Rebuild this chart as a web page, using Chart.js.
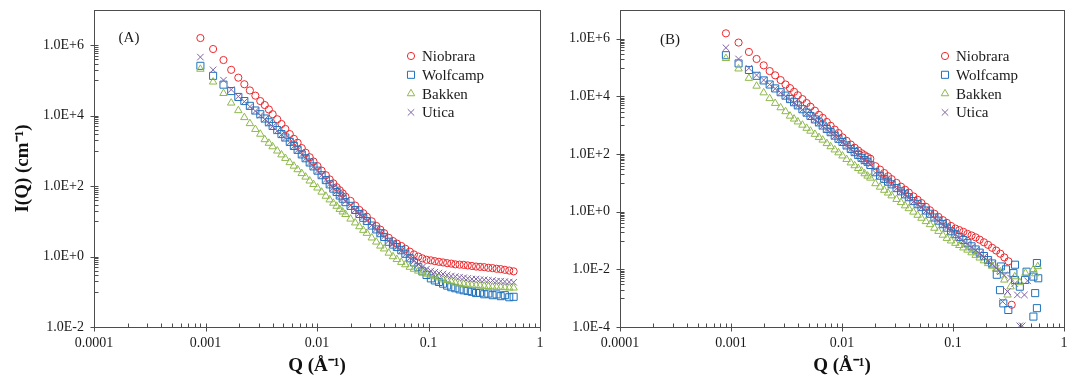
<!DOCTYPE html>
<html lang="en">
<head>
<meta charset="UTF-8">
<title>SANS curves</title>
<style>
  body { margin: 0; background: #fff; }
  canvas { position: absolute; top: 0; }
  #chartA { left: 0; }
  #chartB { left: 560px; }
</style>
</head>
<body>
<canvas id="chartA" width="560" height="378"></canvas>
<canvas id="chartB" width="512" height="378"></canvas>
<script src="https://cdn.jsdelivr.net/npm/chart.js"></script>
<script>
// Q values (1/Angstrom) shared by all series
const qValues = [0.0009, 0.00117, 0.00145, 0.0017, 0.00197, 0.00223, 0.0025, 0.0028, 0.0031, 0.0034,
  0.0037, 0.004, 0.0044, 0.0048, 0.0052, 0.0057, 0.0062, 0.0067, 0.0073, 0.0079,
  0.0086, 0.0093, 0.0101, 0.011, 0.012, 0.013, 0.014, 0.015, 0.016, 0.017,
  0.018, 0.02, 0.022, 0.024, 0.026, 0.028, 0.031, 0.034, 0.037, 0.04,
  0.044, 0.048, 0.052, 0.057, 0.062, 0.068, 0.074, 0.081, 0.088, 0.096,
  0.105, 0.114, 0.124, 0.135, 0.147, 0.16, 0.174, 0.19, 0.207, 0.225,
  0.245, 0.267, 0.29, 0.316, 0.344, 0.375, 0.408, 0.444, 0.484, 0.53, 0.58];

// panel (A)
const niobraraA = [1.6e6, 7.8e5, 3.8e5, 2.0e5, 1.2e5, 7.8e4, 5.2e4, 3.7e4, 2.6e4, 2.0e4,
  1.5e4, 1.1e4, 7.9e3, 5.8e3, 4.2e3, 3.0e3, 2.2e3, 1.7e3, 1.2e3, 890,
  660, 500, 370, 275, 204, 155, 120, 93, 76, 62,
  50, 38, 28, 21, 17, 13.5, 10, 7.4, 5.8, 4.6,
  3.4, 2.75, 2.34, 2.0, 1.66, 1.38, 1.15, 1.0, 0.89, 0.81,
  0.78, 0.74, 0.71, 0.68, 0.65, 0.63, 0.60, 0.59, 0.58, 0.56,
  0.54, 0.52, 0.51, 0.50, 0.48, 0.47, 0.45, 0.44, 0.42, 0.40, 0.38];
const wolfcampA = [2.6e5, 1.35e5, 7.6e4, 5.0e4, 3.4e4, 2.6e4, 1.9e4, 1.4e4, 1.1e4, 8.3e3,
  6.5e3, 5.1e3, 3.9e3, 3.0e3, 2.4e3, 1.8e3, 1.38e3, 1.07e3, 794, 617,
  468, 363, 275, 204, 148, 112, 85, 68, 54, 44,
  35, 27.5, 21, 16.2, 12.6, 10.2, 7.6, 5.9, 4.6, 3.6,
  2.63, 2.19, 1.86, 1.51, 1.2, 0.89, 0.68, 0.5, 0.38, 0.30,
  0.24, 0.21, 0.19, 0.17, 0.15, 0.135, 0.126, 0.117, 0.11, 0.105,
  0.1, 0.092, 0.094, 0.085, 0.089, 0.08, 0.084, 0.075, 0.08, 0.07, 0.072];
const bakkenA = [2.1e5, 9.1e4, 4.3e4, 2.3e4, 1.4e4, 8.9e3, 6.0e3, 4.1e3, 3.0e3, 2.1e3,
  1.66e3, 1.32e3, 1.0e3, 776, 617, 468, 372, 295, 229, 182,
  141, 112, 89, 68, 52, 41, 33, 27, 22, 18.6,
  15.8, 11.7, 9.1, 7.1, 5.6, 4.6, 3.4, 2.6, 2.0, 1.66,
  1.26, 1.0, 0.83, 0.69, 0.59, 0.50, 0.44, 0.39, 0.35, 0.32,
  0.30, 0.27, 0.25, 0.22, 0.21, 0.195, 0.18, 0.17, 0.166, 0.158,
  0.155, 0.151, 0.148, 0.145, 0.141, 0.138, 0.135, 0.135, 0.132, 0.129, 0.129];
const uticaA = [4.6e5, 2.0e5, 1.02e5, 5.5e4, 3.5e4, 2.5e4, 1.8e4, 1.35e4, 1.02e4, 7.9e3,
  6.2e3, 4.9e3, 3.7e3, 2.9e3, 2.3e3, 1.74e3, 1.35e3, 1.05e3, 776, 603,
  457, 355, 269, 204, 151, 115, 89, 71, 56, 46,
  37, 28, 21, 16.6, 13.2, 10.5, 7.8, 6.0, 4.7, 3.7,
  2.8, 2.24, 1.82, 1.45, 1.15, 0.91, 0.74, 0.60, 0.50, 0.44,
  0.39, 0.36, 0.34, 0.32, 0.30, 0.28, 0.27, 0.26, 0.25, 0.24,
  0.23, 0.23, 0.22, 0.22, 0.21, 0.21, 0.20, 0.20, 0.195, 0.19, 0.186];

// panel (B)
const niobraraB = [1.55e6, 7.4e5, 3.5e5, 2.0e5, 1.2e5, 7.6e4, 5.4e4, 3.7e4, 2.6e4, 1.95e4,
  1.45e4, 1.1e4, 8.1e3, 5.9e3, 4.4e3, 3.2e3, 2.3e3, 1.8e3, 1.3e3, 955,
  708, 537, 380, 288, 214, 166, 132, 107, 91, 79,
  69, 38, 29, 22, 17, 13.5, 10, 7.4, 5.8, 4.6,
  3.4, 2.6, 2.0, 1.48, 1.12, 0.85, 0.66, 0.51, 0.41, 0.32,
  0.26, 0.23, 0.20, 0.17, 0.15, 0.129, 0.107, 0.087, 0.071, 0.056,
  0.045, 0.035, 0.026, 0.019, null, null, null, null, null, null, null];
const wolfcampB = [2.7e5, 1.4e5, 8.3e4, 5.2e4, 3.6e4, 2.6e4, 1.9e4, 1.4e4, 1.07e4, 8.1e3,
  6.3e3, 4.9e3, 3.6e3, 2.75e3, 2.1e3, 1.6e3, 1.26e3, 980, 740, 575,
  437, 339, 263, 200, 151, 117, 93, 74, 62, 54,
  42, 23.4, 17.8, 13.8, 11, 8.9, 6.6, 5.1, 4.0, 3.2,
  2.34, 1.82, 1.45, 1.1, 0.85, 0.63, 0.49, 0.37, 0.28, 0.21,
  0.166, 0.132, 0.105, 0.081, 0.063, 0.049, 0.038, 0.029, 0.021, 0.016,
  null, null, null, null, null, null, null, null, null, null, null];
const bakkenB = [2.1e5, 9.1e4, 4.3e4, 2.3e4, 1.35e4, 8.5e3, 5.8e3, 4.1e3, 3.0e3, 2.1e3,
  1.66e3, 1.32e3, 1.02e3, 794, 631, 490, 380, 309, 234, 182,
  141, 112, 87, 66, 50, 40, 32, 26, 21, 17.4,
  14.8, 9.5, 7.2, 5.6, 4.5, 3.6, 2.7, 2.1, 1.62, 1.29,
  0.98, 0.76, 0.60, 0.46, 0.36, 0.27, 0.21, 0.155, 0.12, 0.098,
  0.081, 0.068, 0.056, 0.047, 0.038, 0.031, 0.025, 0.020, 0.016, 0.013,
  0.0105, 0.0083, null, null, null, null, null, null, null, null, null];
const uticaB = [4.9e5, 2.0e5, 9.5e4, 5.5e4, 3.7e4, 2.6e4, 1.86e4, 1.35e4, 1.02e4, 7.8e3,
  6.0e3, 4.7e3, 3.5e3, 2.6e3, 2.0e3, 1.55e3, 1.2e3, 933, 708, 550,
  417, 324, 251, 191, 145, 112, 89, 71, 59, 50,
  44, 22.4, 17, 13.2, 10.5, 8.5, 6.3, 4.9, 3.8, 3.0,
  2.24, 1.74, 1.38, 1.05, 0.81, 0.60, 0.47, 0.35, 0.28, 0.21,
  0.162, 0.126, 0.098, 0.076, 0.059, 0.046, 0.035, 0.027, 0.020, 0.015,
  0.011, 0.0083, 0.0063, null, null, null, null, null, null, null, null];

// scattered high-Q points of panel (B)
const niobraraTailQ = [0.338];
const niobraraTailI = [0.00059];
const wolfcampTailQ = [0.248, 0.265, 0.27, 0.284, 0.30, 0.315, 0.35, 0.362, 0.362, 0.40, 0.446, 0.46, 0.53, 0.53, 0.55, 0.57, 0.57, 0.586];
const wolfcampTailI = [0.0065, 0.0019, 0.0126, 0.00066, 0.010, 0.00039, 0.0074, 0.0145, 0.0043, 0.0025, 0.0043, 0.0083, 0.0056, 0.00023, 0.0015, 0.0166, 0.00045, 0.0049];
const bakkenTailQ = [0.29, 0.31, 0.33, 0.36, 0.40, 0.45, 0.53, 0.55, 0.58];
const bakkenTailI = [0.0043, 0.0013, 0.0025, 0.0056, 0.0035, 0.0074, 0.0100, 0.0071, 0.0126];
const uticaTailQ = [0.28, 0.31, 0.33, 0.36, 0.38, 0.40, 0.42, 0.44, 0.47];
const uticaTailI = [0.00076, 0.0017, 0.005, 0.0032, 0.0013, 0.00011, 0.00011, 0.0013, 0.004];

const seriesNames = ['Niobrara', 'Wolfcamp', 'Bakken', 'Utica'];
const xTicks = [0.0001, 0.001, 0.01, 0.1, 1];
const xTickLabels = ['0.0001', '0.001', '0.01', '0.1', '1'];
const yTicksA = [1e-2, 1, 1e2, 1e4, 1e6];
const yTickLabelsA = ['1.0E-2', '1.0E+0', '1.0E+2', '1.0E+4', '1.0E+6'];
const yTicksB = [1e-4, 1e-2, 1, 1e2, 1e4, 1e6];
const yTickLabelsB = ['1.0E-4', '1.0E-2', '1.0E+0', '1.0E+2', '1.0E+4', '1.0E+6'];

const styles = [
  { color: '#ec2a2e', shape: 'circle', r: 3.6 },
  { color: '#1f72bd', shape: 'rect', r: 5 },
  { color: '#8fb94b', shape: 'triangle', r: 4.3 },
  { color: '#7e63a6', shape: 'crossRot', r: 4.6 }
];
const FONT = '"Liberation Serif", "Times New Roman", serif';

function toPoints(values, tailQ, tailI) {
  const pts = [];
  values.forEach((v, i) => { if (v !== null) pts.push({ x: qValues[i], y: v }); });
  if (tailQ) tailQ.forEach((q, i) => pts.push({ x: q, y: tailI[i] }));
  return pts;
}

function makeDatasets(list) {
  return list.map((pts, i) => ({
    label: seriesNames[i],
    data: pts,
    pointStyle: styles[i].shape,
    pointRadius: styles[i].r,
    borderColor: styles[i].color,
    backgroundColor: 'rgba(0,0,0,0)',
    pointBorderWidth: 1,
    showLine: false,
    order: 4 - i
  }));
}

function drawMarker(ctx, shape, x, y, r, color) {
  ctx.strokeStyle = color;
  ctx.lineWidth = 1;
  ctx.beginPath();
  if (shape === 'circle') {
    ctx.arc(x, y, r, 0, Math.PI * 2);
  } else if (shape === 'rect') {
    const s = r * Math.SQRT1_2;
    ctx.rect(x - s, y - s, 2 * s, 2 * s);
  } else if (shape === 'triangle') {
    ctx.moveTo(x, y - r);
    ctx.lineTo(x + r * 0.866, y + r * 0.5);
    ctx.lineTo(x - r * 0.866, y + r * 0.5);
    ctx.closePath();
  } else {
    const s = r * Math.SQRT1_2;
    ctx.moveTo(x - s, y - s); ctx.lineTo(x + s, y + s);
    ctx.moveTo(x + s, y - s); ctx.lineTo(x - s, y + s);
  }
  ctx.stroke();
}

// frame, Excel-like ticks, legend and panel letter
const decorations = {
  id: 'decorations',
  afterDraw(chart, args, opts) {
    const { ctx, chartArea: a, scales: { x, y } } = chart;
    ctx.save();
    ctx.strokeStyle = '#4d4d4d';
    ctx.lineWidth = 1;
    ctx.strokeRect(Math.round(a.left) + 0.5, Math.round(a.top) + 0.5,
      Math.round(a.right - a.left), Math.round(a.bottom - a.top));

    ctx.beginPath();
    const bx = Math.round(a.bottom) + 0.5;
    for (let e = -4; e <= 0; e++) {
      const base = Math.pow(10, e);
      const px = Math.round(x.getPixelForValue(base)) + 0.5;
      ctx.moveTo(px, bx - 4); ctx.lineTo(px, bx + 4);
      if (e < 0) {
        for (let m = 2; m <= 9; m++) {
          const mx = Math.round(x.getPixelForValue(base * m)) + 0.5;
          ctx.moveTo(mx, bx - 4); ctx.lineTo(mx, bx);
        }
      }
    }
    const lx = Math.round(a.left) + 0.5;
    opts.yMajor.forEach(v => {
      const py = Math.round(y.getPixelForValue(v)) + 0.5;
      ctx.moveTo(lx - 4, py); ctx.lineTo(lx + 4, py);
      const dec = v * 10;
      for (let m = 1; m <= 9; m++) {
        const val = dec * m;
        if (val > y.max) break;
        const my = Math.round(y.getPixelForValue(val)) + 0.5;
        ctx.moveTo(lx, my); ctx.lineTo(lx + 4, my);
      }
    });
    ctx.stroke();

    ctx.font = '15px ' + FONT;
    ctx.textBaseline = 'middle';
    chart.data.datasets.forEach((ds, i) => {
      const ly = opts.legendY + i * 18.8;
      drawMarker(ctx, styles[i].shape, opts.legendX, ly, styles[i].r, styles[i].color);
      ctx.fillStyle = '#1a1a1a';
      ctx.textAlign = 'left';
      ctx.fillText(ds.label, opts.legendX + 11, ly + 1);
    });
    ctx.textAlign = 'center';
    ctx.fillText(opts.panel, opts.panelX, opts.panelY);
    ctx.restore();
  }
};

function makeChart(id, datasets, yMin, yTicks, yLabels, yWidth, rightPad, yTitle, deco) {
  return new Chart(document.getElementById(id), {
    type: 'scatter',
    data: { datasets },
    options: {
      responsive: false,
      animation: false,
      devicePixelRatio: 1,
      layout: { padding: { top: 10, right: rightPad, left: 0, bottom: 0 } },
      plugins: { legend: { display: false }, tooltip: { enabled: false }, decorations: deco },
      scales: {
        x: {
          type: 'logarithmic', min: 0.0001, max: 1,
          afterBuildTicks: s => { s.ticks = xTicks.map(v => ({ value: v })); },
          afterFit: s => { s.height = 51; s.paddingLeft = 0; s.paddingRight = 0; },
          grid: { display: false, drawTicks: false },
          border: { display: false },
          ticks: {
            autoSkip: false, maxRotation: 0, padding: 8, color: '#1a1a1a',
            font: { family: FONT, size: 14 },
            callback: v => xTickLabels[xTicks.indexOf(v)]
          },
          title: {
            display: true, text: 'Q (Å⁻¹)', color: '#111',
            font: { family: FONT, size: 19, weight: 'bold' },
            padding: { top: 0, bottom: 1 }
          }
        },
        y: {
          type: 'logarithmic', min: yMin, max: 1e7,
          afterBuildTicks: s => { s.ticks = yTicks.map(v => ({ value: v })); },
          afterFit: s => { s.width = yWidth; s.paddingTop = 0; s.paddingBottom = 0; },
          grid: { display: false, drawTicks: false },
          border: { display: false },
          ticks: {
            autoSkip: false, padding: 10, color: '#1a1a1a',
            font: { family: FONT, size: 14 },
            callback: v => yLabels[yTicks.indexOf(v)]
          },
          title: {
            display: yTitle !== '', text: yTitle, color: '#111',
            font: { family: FONT, size: 19, weight: 'bold' },
            padding: { top: 12, bottom: 0 }
          }
        }
      }
    },
    plugins: [decorations]
  });
}

makeChart('chartA',
  makeDatasets([toPoints(niobraraA), toPoints(wolfcampA), toPoints(bakkenA), toPoints(uticaA)]),
  1e-2, yTicksA, yTickLabelsA, 94, 20, 'I(Q) (cm⁻¹)',
  { yMajor: yTicksA, legendX: 411, legendY: 56, panel: '(A)', panelX: 129, panelY: 38 });

makeChart('chartB',
  makeDatasets([
    toPoints(niobraraB, niobraraTailQ, niobraraTailI),
    toPoints(wolfcampB, wolfcampTailQ, wolfcampTailI),
    toPoints(bakkenB, bakkenTailQ, bakkenTailI),
    toPoints(uticaB, uticaTailQ, uticaTailI)]),
  1e-4, yTicksB, yTickLabelsB, 60, 8, '',
  { yMajor: yTicksB, legendX: 385, legendY: 56, panel: '(B)', panelX: 110, panelY: 40 });
</script>
</body>
</html>
